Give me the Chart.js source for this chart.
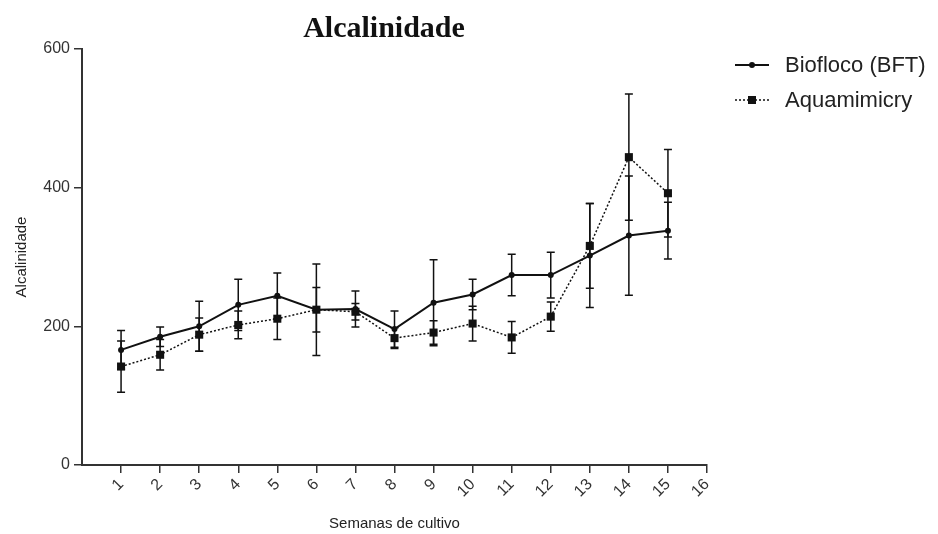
<!DOCTYPE html>
<html>
<head>
<meta charset="utf-8">
<title>Alcalinidade</title>
<script src="https://cdn.jsdelivr.net/npm/chart.js@4.4.1/dist/chart.umd.min.js"></script>
<style>
html, body { margin: 0; padding: 0; background: #fff; }
#wrap { position: relative; width: 938px; height: 534px; }
#chart { position: absolute; left: 0; top: 0; }
#title { position: absolute; left: 0; top: 12px; width: 768px; text-align: center; font-family: "Liberation Serif", "Times New Roman", serif; font-weight: bold; font-size: 30px; line-height: 30px; color: #111; }
#legend { position: absolute; left: 733px; top: 47px; font-family: "Liberation Sans", Arial, sans-serif; font-size: 22px; color: #222; }
.row { display: flex; align-items: center; height: 35px; }
.row svg { margin-right: 14px; }
</style>
</head>
<body>
<div id="wrap">
  <canvas id="chart" width="768" height="534"></canvas>
  <div id="title">Alcalinidade</div>
  <div id="legend">
    <div class="row">
      <svg width="38" height="12"><line x1="2" y1="6" x2="36" y2="6" stroke="#111" stroke-width="2"/><circle cx="19" cy="6" r="3" fill="#111"/></svg>
      <span>Biofloco (BFT)</span>
    </div>
    <div class="row">
      <svg width="38" height="12"><line x1="2" y1="6" x2="36" y2="6" stroke="#111" stroke-width="1.5" stroke-dasharray="2,2"/><rect x="15" y="2" width="8" height="8" fill="#111"/></svg>
      <span>Aquamimicry</span>
    </div>
  </div>
</div>
<script>
// semanas de cultivo
const weeks = [1, 2, 3, 4, 5, 6, 7, 8, 9, 10, 11, 12, 13, 14, 15];

// Biofloco (BFT): media e desvio
const bftMean = [166, 185, 200, 231, 244, 224, 225, 196, 234, 246, 274, 274, 302, 331, 338];
const bftSd   = [28, 14, 36, 37, 33, 66, 26, 26, 62, 22, 30, 33, 75, 86, 41];

// Aquamimicry: media e desvio
const aquaMean = [142, 159, 188, 202, 211, 224, 221, 183, 191, 204, 184, 214, 316, 444, 392];
const aquaSd   = [37, 22, 24, 20, 30, 32, 12, 15, 17, 25, 23, 21, 61, 91, 63];

const yTicks = [0, 200, 400, 600];

const toPoints = (means) => weeks.map((w, i) => ({ x: w, y: means[i] }));

const axisColor = '#333';
const fontSans = 'Liberation Sans, Arial, sans-serif';

// barras de erro (media +/- desvio)
const errorBars = {
    id: 'errorBars',
    beforeDatasetsDraw(chart) {
        const ctx = chart.ctx;
        const x = chart.scales.x, y = chart.scales.y;
        ctx.save();
        ctx.strokeStyle = '#111';
        ctx.lineWidth = 1.5;
        chart.data.datasets.forEach(ds => {
            ds.data.forEach((p, i) => {
                const sd = ds.errors[i];
                const px = x.getPixelForValue(p.x);
                const top = y.getPixelForValue(p.y + sd);
                const bot = y.getPixelForValue(p.y - sd);
                ctx.beginPath();
                ctx.moveTo(px, top); ctx.lineTo(px, bot);
                ctx.moveTo(px - 4, top); ctx.lineTo(px + 4, top);
                ctx.moveTo(px - 4, bot); ctx.lineTo(px + 4, bot);
                ctx.stroke();
            });
        });
        ctx.restore();
    }
};

new Chart(document.getElementById('chart'), {
    type: 'line',
    data: {
        datasets: [{
            label: 'Biofloco (BFT)',
            data: toPoints(bftMean),
            errors: bftSd,
            borderColor: '#111',
            backgroundColor: '#111',
            borderWidth: 2,
            pointStyle: 'circle',
            pointRadius: 3,
            pointBackgroundColor: '#111',
            pointBorderWidth: 0
        }, {
            label: 'Aquamimicry',
            data: toPoints(aquaMean),
            errors: aquaSd,
            borderColor: '#111',
            backgroundColor: '#111',
            borderWidth: 1.5,
            borderDash: [2, 2],
            pointStyle: 'rect',
            pointRadius: 5.7,
            pointBackgroundColor: '#111',
            pointBorderWidth: 0
        }]
    },
    options: {
        responsive: false,
        animation: false,
        devicePixelRatio: 1,
        layout: { padding: { left: 13, right: 61, top: 49, bottom: 0 } },
        plugins: {
            legend: { display: false },
            tooltip: { enabled: false },
            title: { display: false }
        },
        scales: {
            x: {
                type: 'linear',
                min: 0,
                max: 16,
                afterFit(scale) { scale.height = 69; },
                ticks: {
                    stepSize: 1,
                    autoSkip: false,
                    minRotation: 45,
                    maxRotation: 45,
                    color: axisColor,
                    padding: 2,
                    font: { family: fontSans, size: 16 },
                    callback: v => v === 0 ? '' : v
                },
                grid: {
                    drawOnChartArea: false,
                    drawTicks: true,
                    tickLength: 8,
                    lineWidth: 1.5,
                    color: c => (c.tick && c.tick.value === 0) ? 'rgba(0,0,0,0)' : axisColor
                },
                border: { color: axisColor, width: 2 },
                title: {
                    display: true,
                    text: 'Semanas de cultivo',
                    color: '#222',
                    font: { family: fontSans, size: 15 },
                    padding: { top: 5, bottom: 1 }
                }
            },
            y: {
                min: 0,
                max: 600,
                afterFit(scale) { scale.width = 69; },
                afterBuildTicks(scale) { scale.ticks = yTicks.map(v => ({ value: v })); },
                ticks: {
                    color: axisColor,
                    padding: 4,
                    font: { family: fontSans, size: 16 }
                },
                grid: {
                    drawOnChartArea: false,
                    drawTicks: true,
                    tickLength: 8,
                    lineWidth: 1.5,
                    color: axisColor
                },
                border: { color: axisColor, width: 2 },
                title: {
                    display: true,
                    text: 'Alcalinidade',
                    color: '#222',
                    font: { family: fontSans, size: 15 },
                    padding: { top: 0, bottom: 4 }
                }
            }
        }
    },
    plugins: [errorBars]
});
</script>
</body>
</html>
